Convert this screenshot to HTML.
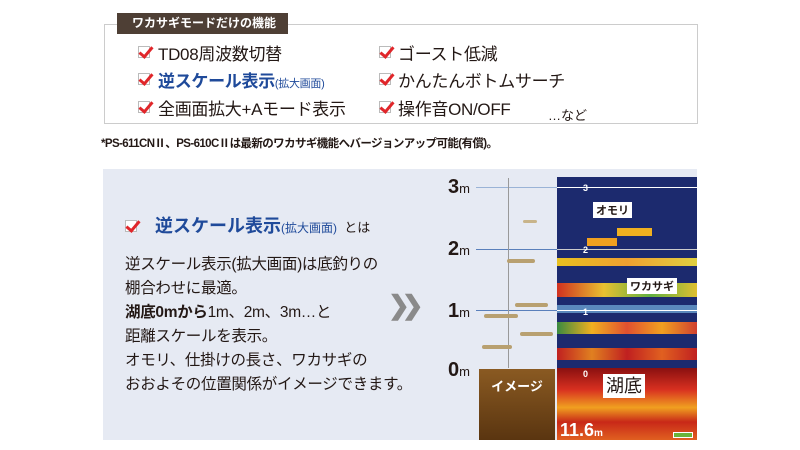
<!DOCTYPE html>
<html><head><meta charset="utf-8"><style>
*{margin:0;padding:0;box-sizing:border-box}
body{width:800px;height:450px;background:#fff;position:relative;overflow:hidden;font-family:"Liberation Sans","Noto Sans CJK JP",sans-serif;color:#231815}
.a{position:absolute;white-space:nowrap}
.ck{position:absolute;width:12px;height:12px;border:1px solid #bbb;background:#fff}
.ck:after{content:"";position:absolute;left:3px;top:-3px;width:5px;height:11px;border:solid #e0262a;border-width:0 3px 3px 0;transform:rotate(40deg)}
.it{font-size:17px;letter-spacing:-0.3px}
.blue{color:#1f4a9a;font-weight:bold}
.sm{font-size:11px;color:#1f4a9a;font-weight:normal}
.band{position:absolute;left:557px;width:140px}
</style></head><body>
<div class="a" style="left:104px;top:24px;width:594px;height:100px;border:1px solid #ccc"></div>
<div class="a" style="left:117px;top:13px;width:171px;height:21px;background:#4e3f35;color:#fff;font-size:12px;font-weight:bold;line-height:21px;padding-left:15px">ワカサギモードだけの機能</div>
<div class="ck" style="left:138px;top:46px"></div><div class="a it" style="left:158px;top:40px">TD08周波数切替</div>
<div class="ck" style="left:138px;top:73px"></div><div class="a it" style="left:158px;top:67px"><span class="blue">逆スケール表示</span><span class="sm">(拡大画面)</span></div>
<div class="ck" style="left:138px;top:101px"></div><div class="a it" style="left:158px;top:95px">全画面拡大+Aモード表示</div>
<div class="ck" style="left:379px;top:46px"></div><div class="a it" style="left:398px;top:40px">ゴースト低減</div>
<div class="ck" style="left:379px;top:73px"></div><div class="a it" style="left:398px;top:67px">かんたんボトムサーチ</div>
<div class="ck" style="left:379px;top:101px"></div><div class="a it" style="left:398px;top:95px">操作音ON/OFF</div>
<div class="a" style="left:548px;top:105px;font-size:13px">…など</div>
<div class="a" style="left:101px;top:135px;font-size:11.5px;font-weight:bold;letter-spacing:-0.6px">*PS-611CNⅡ、PS-610CⅡは最新のワカサギ機能へバージョンアップ可能(有償)。</div>

<div class="a" style="left:103px;top:169px;width:594px;height:271px;background:#e6eaf3"></div>
<div class="ck" style="left:125px;top:220px"></div>
<div class="a" style="left:155px;top:212px;font-size:18px"><span class="blue">逆スケール表示</span><span class="sm" style="font-size:12px">(拡大画面)</span><span style="font-size:13px">&nbsp; とは</span></div>
<div class="a" style="left:125px;top:253px;font-size:15.5px;line-height:24px;letter-spacing:-0.3px">逆スケール表示(拡大画面)は底釣りの<br>棚合わせに最適。<br><b>湖底0mから</b>1m、2m、3m…と<br>距離スケールを表示。<br>オモリ、仕掛けの長さ、ワカサギの<br>おおよその位置関係がイメージできます。</div>
<div class="a" style="left:388px;top:290px;font-size:26px;font-weight:bold;color:#8a8a8a;letter-spacing:-8px">❯❯</div>

<!-- scale -->
<div class="a" style="left:448px;top:176px;font-size:20px;font-weight:bold">3<span style="font-size:13px;font-weight:normal">m</span></div>
<div class="a" style="left:448px;top:238px;font-size:20px;font-weight:bold">2<span style="font-size:13px;font-weight:normal">m</span></div>
<div class="a" style="left:448px;top:300px;font-size:20px;font-weight:bold">1<span style="font-size:13px;font-weight:normal">m</span></div>
<div class="a" style="left:448px;top:359px;font-size:20px;font-weight:bold">0<span style="font-size:13px;font-weight:normal">m</span></div>
<div class="a" style="left:476px;top:187px;width:81px;height:1px;background:#9ab3d6"></div>
<div class="a" style="left:476px;top:249px;width:81px;height:1px;background:#5a80bb"></div>
<div class="a" style="left:476px;top:310px;width:81px;height:1px;background:#5a80bb"></div>
<div class="a" style="left:508px;top:178px;width:1px;height:190px;background:#999"></div>
<div class="a" style="left:523px;top:220px;width:14px;height:3px;background:#c8b48a;border-radius:2px"></div>
<div class="a" style="left:507px;top:259px;width:28px;height:4px;background:#b8a070;border-radius:2px"></div>
<div class="a" style="left:515px;top:303px;width:33px;height:4px;background:#b8a070;border-radius:2px"></div>
<div class="a" style="left:484px;top:314px;width:34px;height:4px;background:#b8a070;border-radius:2px"></div>
<div class="a" style="left:520px;top:332px;width:33px;height:4px;background:#b8a070;border-radius:2px"></div>
<div class="a" style="left:482px;top:345px;width:30px;height:4px;background:#b8a070;border-radius:2px"></div>
<div class="a" style="left:479px;top:369px;width:76px;height:71px;background:linear-gradient(#8a5a22,#5a3510)"></div>
<div class="a" style="left:479px;top:376px;width:76px;text-align:center;color:#fff;font-size:13px;font-weight:bold">イメージ</div>

<!-- sonar -->
<div class="a" style="left:557px;top:177px;width:140px;height:263px;background:#1c2a6e"></div>
<div class="band" style="top:258px;height:8px;background:linear-gradient(90deg,#e8c020,#f0a030,#e0d040)"></div>
<div class="band" style="top:283px;height:14px;background:linear-gradient(90deg,#d03020,#e8c030,#60b040,#e0c030)"></div>
<div class="band" style="top:305px;height:8px;background:#6aa0d0;opacity:.8"></div>
<div class="band" style="top:322px;height:12px;background:linear-gradient(90deg,#3a8a40,#f0b020,#e05030,#f0a020,#d04030)"></div>
<div class="band" style="top:348px;height:12px;background:linear-gradient(90deg,#c02020,#e08020,#c02020,#e06020,#c02020)"></div>
<div class="band" style="top:368px;height:72px;background:linear-gradient(#8a1010,#d83020 30%,#f0a020 55%,#c82818 75%,#e06020)"></div>
<div class="a" style="left:587px;top:238px;width:30px;height:8px;background:#f0a020"></div>
<div class="a" style="left:617px;top:228px;width:35px;height:8px;background:#f0b020"></div>
<div class="a" style="left:557px;top:187px;width:140px;height:1px;background:#fff"></div>
<div class="a" style="left:557px;top:249px;width:140px;height:1px;background:#ccc"></div>
<div class="a" style="left:557px;top:310px;width:140px;height:1px;background:#fff"></div>
<div class="a" style="left:583px;top:183px;color:#fff;font-size:9px;font-weight:bold">3</div>
<div class="a" style="left:583px;top:245px;color:#fff;font-size:9px;font-weight:bold">2</div>
<div class="a" style="left:583px;top:307px;color:#fff;font-size:9px;font-weight:bold">1</div>
<div class="a" style="left:583px;top:369px;color:#fff;font-size:9px;font-weight:bold">0</div>
<div class="a" style="left:593px;top:202px;background:#fff;font-size:11px;font-weight:bold;padding:0 3px">オモリ</div>
<div class="a" style="left:627px;top:278px;background:#fff;font-size:11px;font-weight:bold;padding:0 3px">ワカサギ</div>
<div class="a" style="left:603px;top:374px;background:#fff;font-size:18px;padding:0 3px;line-height:24px">湖底</div>
<div class="a" style="left:560px;top:420px;color:#fff;font-size:18px;font-weight:bold">11.6<span style="font-size:10px">m</span></div>
<div class="a" style="left:673px;top:432px;width:20px;height:6px;background:#6ab43a;border:1px solid #fff"></div>
</body></html>
